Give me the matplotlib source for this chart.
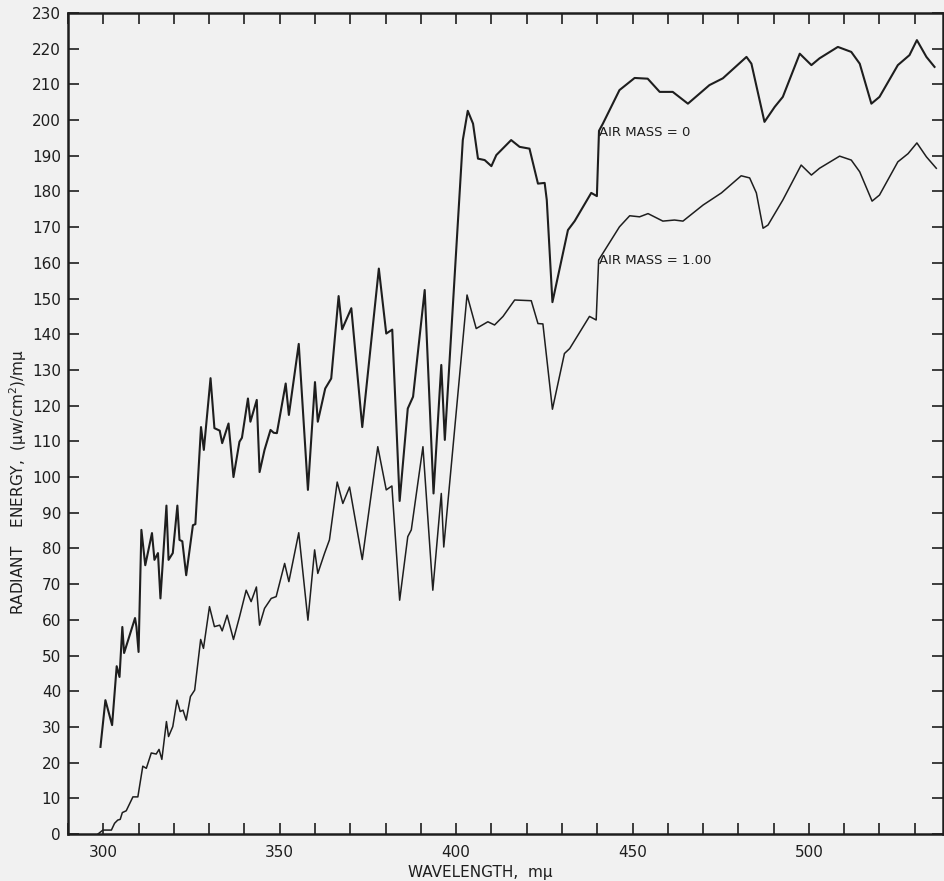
import matplotlib

matplotlib.use("Agg")
import matplotlib.pyplot as plt
from matplotlib.ticker import MultipleLocator

# Solar spectral irradiance
wl_air0 = [
    299.2, 300.6, 302.5, 303.8, 304.6, 305.4, 305.9, 309.0, 309.4, 310.0,
    310.8, 311.9, 313.8, 314.5, 315.5, 316.2, 317.9, 318.5, 319.7, 321.0,
    321.6, 322.4, 323.5, 325.4, 326.1, 327.7, 328.5, 330.4, 331.5, 333.0,
    333.7, 335.5, 336.9, 338.6, 339.3, 341.0, 341.7, 343.5, 344.3, 345.7,
    347.4, 348.3, 349.2, 351.7, 352.6, 355.4, 358.0, 360.0, 360.8, 362.9,
    364.6, 366.7, 367.7, 370.3, 373.4, 378.1, 380.2, 381.9, 384.0, 386.3,
    387.8, 391.1, 393.6, 395.8, 396.8, 401.9, 403.3, 404.8, 406.2, 408.1,
    410.0, 411.4, 415.6, 418.0, 420.8, 423.2, 425.1, 425.7, 427.3, 431.7,
    433.6, 438.3, 439.9, 440.5, 441.6, 446.3, 450.6, 454.3, 457.7, 461.4,
    465.7, 471.8, 475.6, 482.3, 483.7, 487.4, 490.3, 492.6, 497.4, 500.7,
    503.0, 508.2, 512.0, 514.4, 517.7, 520.0, 525.2, 528.5, 530.6, 533.3,
    535.6,
]
energy_air0 = [
    24.4, 37.5, 30.5, 47.0, 44.0, 58.0, 50.7, 60.5, 58.0, 51.0,
    85.2, 75.3, 84.3, 76.8, 78.7, 66.0, 92.0, 76.8, 78.7, 92.0,
    82.4, 82.0, 72.5, 86.5, 86.8, 114.0, 107.6, 127.7, 113.7, 113.0,
    109.5, 115.0, 100.0, 109.9, 111.0, 122.0, 115.5, 121.6, 101.4, 107.6,
    113.2, 112.4, 112.3, 126.2, 117.4, 137.3, 96.4, 126.6, 115.5, 124.8,
    127.6, 150.7, 141.4, 147.3, 114.0, 158.4, 140.2, 141.3, 93.3, 119.2,
    122.5, 152.4, 95.4, 131.4, 110.4, 194.4, 202.6, 199.0, 189.2, 188.8,
    187.1, 190.2, 194.4, 192.5, 192.0, 182.2, 182.4, 177.6, 149.0, 169.2,
    171.7, 179.6, 178.7, 197.0, 199.0, 208.4, 211.8, 211.6, 207.9, 207.9,
    204.6, 209.8, 211.7, 217.7, 215.8, 199.5, 203.7, 206.5, 218.6, 215.4,
    217.3, 220.5, 219.1, 215.8, 204.6, 206.5, 215.4, 218.2, 222.4, 217.7,
    214.9,
]

wl_air1 = [
    298.5, 299.9, 302.3, 303.2, 304.1, 304.8, 305.4, 306.5, 308.4, 309.8,
    311.2, 312.2, 313.6, 315.0, 315.8, 316.6, 317.9, 318.5, 319.7, 320.9,
    321.8, 322.6, 323.5, 324.7, 325.9, 327.6, 328.4, 330.1, 331.5, 333.0,
    333.7, 335.1, 336.9, 338.6, 340.5, 341.9, 343.4, 344.3, 345.7, 347.6,
    349.0, 351.4, 352.6, 355.4, 358.0, 359.9, 360.8, 362.7, 364.1, 366.3,
    367.9, 369.8, 373.4, 377.8, 380.2, 381.8, 384.0, 386.3, 387.3, 390.6,
    393.4, 395.8, 396.5, 403.1, 405.7, 409.0, 410.9, 413.3, 416.6, 421.3,
    423.2, 424.6, 427.3, 430.7, 432.2, 437.8, 439.7, 440.4, 446.3, 449.2,
    452.0, 454.4, 458.6, 461.9, 464.3, 470.0, 475.2, 480.8, 483.2, 485.1,
    487.0, 488.4, 492.6, 497.8, 500.7, 503.0, 508.7, 512.0, 514.4, 517.9,
    520.0, 525.2, 528.1, 530.6, 533.3, 536.1,
]
energy_air1 = [
    0.0, 1.1, 1.1, 3.0, 3.9, 4.1, 6.0, 6.5, 10.4, 10.4,
    19.0, 18.4, 22.7, 22.4, 23.7, 20.9, 31.5, 27.3, 30.1, 37.5,
    34.3, 34.7, 31.9, 38.5, 40.3, 54.5, 52.0, 63.7, 58.1, 58.5,
    56.9, 61.3, 54.5, 60.8, 68.3, 65.1, 69.2, 58.5, 63.2, 66.0,
    66.5, 75.8, 70.7, 84.4, 59.9, 79.6, 73.0, 78.6, 82.4, 98.6,
    92.6, 97.2, 76.9, 108.5, 96.4, 97.5, 65.5, 83.3, 85.2, 108.5,
    68.3, 95.4, 80.4, 151.0, 141.6, 143.5, 142.6, 145.0, 149.6, 149.4,
    143.0, 142.9, 119.0, 134.6, 136.0, 145.0, 144.0, 160.8, 170.1, 173.2,
    172.9, 173.8, 171.7, 172.0, 171.7, 176.2, 179.6, 184.4, 183.8, 179.6,
    169.7, 170.6, 177.6, 187.4, 184.6, 186.5, 189.9, 188.8, 185.5, 177.3,
    179.0, 188.3, 190.6, 193.6, 189.7, 186.5,
]

label_air0 = "AIR MASS = 0"
label_air1 = "AIR MASS = 1.00"

bg = "#f1f1f1"
ink = "#1e1e1e"

fig = plt.figure(figsize=(9.44, 8.81), dpi=100, facecolor=bg)
ax = fig.add_axes([68 / 944, 47 / 881, 875 / 944, 821 / 881], facecolor=bg)

ax.plot(wl_air0, energy_air0, color=ink, linewidth=1.5)
ax.plot(wl_air1, energy_air1, color=ink, linewidth=1.1)

ax.text(440.6, 196.5, label_air0, fontsize=9.5, color=ink, va="center", ha="left")
ax.text(440.6, 160.8, label_air1, fontsize=9.5, color=ink, va="center", ha="left")

ax.set_xlim(290, 538)
ax.set_ylim(0, 230)
ax.xaxis.set_major_locator(MultipleLocator(50))
ax.xaxis.set_minor_locator(MultipleLocator(10))
ax.yaxis.set_major_locator(MultipleLocator(10))

ax.tick_params(which="both", direction="in", length=8, width=1.2, colors=ink,
               top=True, right=True, labelsize=11)
ax.tick_params(axis="x", which="major", pad=8)
ax.tick_params(axis="y", which="major", pad=5)
for side in ("left", "bottom", "top", "right"):
    ax.spines[side].set_linewidth(1.8)
    ax.spines[side].set_color(ink)

fig.text(480 / 944, 1 - 872 / 881, "WAVELENGTH,  m\u03bc", fontsize=11, color=ink,
         ha="center", va="center")
fig.text(18 / 944, 1 - 482 / 881, "RADIANT    ENERGY,  (\u03bcw/cm$^2$)/m\u03bc", fontsize=11,
         color=ink, ha="center", va="center", rotation=90)

fig.savefig("out.png", dpi=100, facecolor=bg)
